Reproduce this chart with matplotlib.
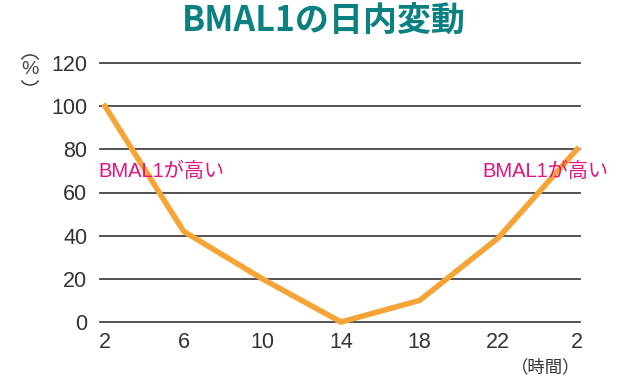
import matplotlib
matplotlib.use("Agg")
import matplotlib.pyplot as plt
from matplotlib.patches import Arc

plt.rcParams['font.family'] = ['Liberation Sans', 'Noto Sans CJK JP', 'DejaVu Sans']

hours = ["2", "6", "10", "14", "18", "22", "2"]
bmal1 = [100, 42, 20, 0, 10, 39, 80]
y_ticks = [0, 20, 40, 60, 80, 100, 120]


def px(x, y):
    # figure pixel (from top-left) -> figure fraction
    return x / 632, 1 - y / 380


def main():
    fig = plt.figure(figsize=(6.32, 3.8), dpi=100)
    ax = fig.add_axes([100 / 632, 1 - 322 / 380, 480 / 632, 259 / 380])
    x = list(range(len(hours)))

    for v in y_ticks:
        ax.axhline(v, color="#444444", lw=1.3, zorder=1, clip_on=False)
    ax.plot(x, bmal1, color="#f7a436", lw=4, zorder=3, clip_on=False,
            solid_joinstyle="miter")

    ax.set_xlim(-5 / 78.67, 6 + 3 / 78.67)
    ax.set_ylim(0, 120)
    ax.set_xticks(x)
    ax.set_xticklabels(hours)
    ax.set_yticks(y_ticks)
    ax.tick_params(axis="both", length=0, labelsize=15.5, labelcolor="#333333")
    ax.tick_params(axis="x", pad=7)
    ax.tick_params(axis="y", pad=9)
    for s in ax.spines.values():
        s.set_visible(False)
    ax.set_facecolor("none")

    cjk = ["Noto Sans CJK JP", "DejaVu Sans"]
    fig.text(*px(324, 21), "BMAL1の日内変動", ha="center", va="center",
             fontsize=24.5, fontweight="bold", color="#0a8080", family=cjk)
    fig.text(*px(98, 171), "BMAL1が高い", ha="left", va="center",
             fontsize=14.5, color="#e0147f")
    fig.text(*px(608, 171), "BMAL1が高い", ha="right", va="center",
             fontsize=14.5, color="#e0147f")
    # vertical "(%)" label: upright % between two arcs
    fig.text(*px(30, 70), "%", ha="center", va="center",
             fontsize=14, color="#444444")
    fig.add_artist(Arc(px(30, 62), 18 / 632, 14 / 380, theta1=25, theta2=155,
                       transform=fig.transFigure, color="#444444", lw=1.1))
    fig.add_artist(Arc(px(30, 78), 18 / 632, 14 / 380, theta1=205, theta2=335,
                       transform=fig.transFigure, color="#444444", lw=1.1))
    fig.text(*px(580, 367), "（時間）", ha="right", va="center",
             fontsize=12.5, color="#333333", family=cjk)

    fig.savefig("out.png", dpi=100)


if __name__ == "__main__":
    main()
